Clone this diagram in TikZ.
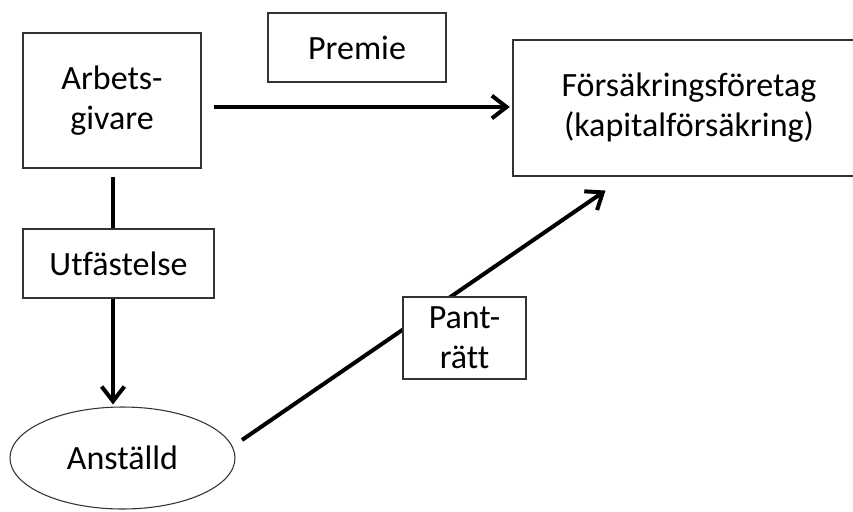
\documentclass[tikz,border=0pt]{standalone}
\usepackage{fontspec}
\setmainfont{Carlito}[Ligatures=NoCommon]
\usetikzlibrary{arrows.meta,shapes.geometric}
\begin{document}
\begin{tikzpicture}[x=0.75pt,y=-0.75pt,
  box/.style={draw=black!80, line width=0.8pt, fill=white, align=center, inner sep=0pt,
    font=\fontsize{25.5}{30}\selectfont},
  oval/.style={ellipse, draw=black!80, line width=0.8pt, fill=white, inner sep=0pt,
    font=\fontsize{25.5}{30}\selectfont},
  conn/.style={line width=3pt, -{Straight Barb[length=11pt,width=17pt,line width=3pt]}}]
\useasboundingbox (0,0) rectangle (853,511);
\begin{scope}
\clip (0,0) rectangle (853,511);
\node[box, minimum width=133.5pt, minimum height=101.25pt] (arb) at (112,100.5) {Arbets-\\givare};
\node[box, minimum width=133.5pt, minimum height=51.75pt] (prem) at (357,47.5) {Premie};
\node[box, minimum width=264pt, minimum height=102pt] (fors) at (689,108) {Försäkringsföretag\\(kapitalförsäkring)};
\node[oval, minimum width=168.75pt, minimum height=76.5pt] (anst) at (122.5,458) {Anställd};

\draw[conn] ([xshift=9pt]arb.east |- 0,107) -- ([xshift=-2pt]fors.west |- 0,107);
\draw[conn] ([xshift=0.75pt,yshift=-6pt]arb.south) -- ([xshift=0.75pt,yshift=1.5pt]arb.south |- anst.north);
\draw[conn] ([shift={(119.5,-18)}]anst.center) -- ([shift={(93,14)}]fors.south west);

\node[box, minimum width=143.25pt, minimum height=51.75pt] (utf) at (118.5,263.5) {Utfästelse};
\node[box, minimum width=92.25pt, minimum height=61.5pt] (pant) at (464.5,338) {Pant-\\rätt};
\end{scope}
\end{tikzpicture}
\end{document}
